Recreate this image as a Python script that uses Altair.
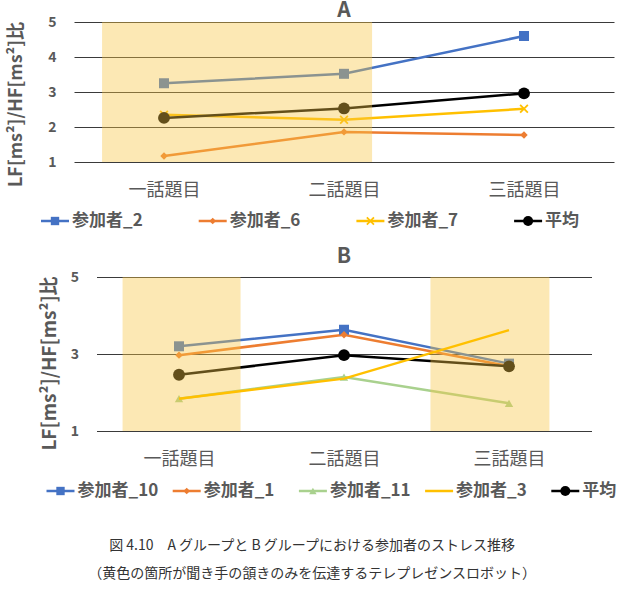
import json
import altair as alt
import pandas as pd

# ---------------- data ----------------
topics = ["一話題目", "二話題目", "三話題目"]

a_series = ["参加者_2", "参加者_6", "参加者_7", "平均"]
a_p2 = [3.25, 3.52, 4.60]
a_p6 = [1.17, 1.86, 1.77]
a_p7 = [2.35, 2.21, 2.52]
a_avg = [2.26, 2.53, 2.96]
a_colors = ["#4472C4", "#ED7D31", "#FFC000", "#000000"]
a_markers = ["square", "diamond", "x", "circle"]
a_shade_from = [0.156]
a_shade_to = [1.656]

b_series = ["参加者_10", "参加者_1", "参加者_11", "参加者_3", "平均"]
b_p10 = [3.20, 3.63, 2.75]
b_p1 = [2.97, 3.50, 2.68]
b_p11 = [1.84, 2.40, 1.72]
b_p3 = [1.84, 2.36, 3.62]
b_avg = [2.46, 2.97, 2.68]
b_colors = ["#4472C4", "#ED7D31", "#A9D18E", "#FFC000", "#000000"]
b_markers = ["square", "diamond", "triangle", "none", "circle"]
b_shade_from = [0.158, 2.024]
b_shade_to = [0.873, 2.745]

caption = ["図 4.10　A グループと B グループにおける参加者のストレス推移",
           "（黄色の箇所が聞き手の頷きのみを伝達するテレプレゼンスロボット）"]

FONT = "Noto Sans CJK JP"
GRAY = "#595959"

# marker styles: (shape, size on chart, size in legend, filled)
marker_style = {
    "square": ("square", 100, 70, True),
    "diamond": ("diamond", 55, 45, True),
    "x": ("M-1,-1L1,1M-1,1L1,-1", 60, 50, False),
    "circle": ("circle", 140, 100, True),
    "triangle": ("triangle-up", 70, 55, True),
}

label_expr = json.dumps(topics, ensure_ascii=False) + "[floor(datum.value)]"
pos_expr = "indexof(" + json.dumps(topics, ensure_ascii=False) + ", datum.topic) + 0.5"


def panel(title, series, values, colors, markers, shade_from, shade_to,
          yticks, width, height, top_series, leg_x0, leg_step, leg_dy, title_offset,
          ytitle_size, ytitle_pad, ytitle_shift):
    rows = []
    for s, vals in zip(series, values):
        for t, v in zip(topics, vals):
            rows.append({"series": s, "topic": t, "value": v})
    df = pd.DataFrame(rows)
    shade_df = pd.DataFrame({"x1": shade_from, "x2": shade_to,
                             "y1": [1] * len(shade_from), "y2": [5] * len(shade_from)})
    leg_df = pd.DataFrame({"series": series})

    xs = alt.Scale(domain=[0, 3], nice=False, zero=False)
    ys = alt.Scale(domain=[1, 5], nice=False, zero=False)
    xaxis = alt.Axis(
        values=[0.5, 1.5, 2.5], labelExpr=label_expr, grid=False, domain=False,
        ticks=False, labelFontSize=18, labelColor=GRAY, labelFont=FONT,
        labelPadding=19, title=None)
    yaxis = alt.Axis(
        values=yticks, tickCount=len(yticks), grid=True, gridColor="#3a3a3a",
        gridWidth=1, domain=False, ticks=False, labelFontSize=14,
        labelFontWeight="bold", labelColor=GRAY, labelFont=FONT, labelPadding=18,
        labelOverlap=False, title="LF[ms²]/HF[ms²]比", titleFontSize=ytitle_size,
        titleFontWeight="bold", titleColor=GRAY, titleFont=FONT,
        titlePadding=ytitle_pad, titleY=height / 2 + ytitle_shift)
    x = alt.X("pos:Q", scale=xs, axis=xaxis)
    y = alt.Y("value:Q", scale=ys, axis=yaxis)

    base = alt.Chart(df).transform_calculate(pos=pos_expr)
    cscale = alt.Scale(domain=series, range=colors)
    wscale = alt.Scale(domain=series, range=[3.5 if s == "平均" else 2.5 for s in series])

    def line_layer(keep):
        return base.transform_filter(
            alt.FieldOneOfPredicate(field="series", oneOf=keep)
        ).mark_line().encode(
            x=x, y=y,
            color=alt.Color("series:N", scale=cscale, legend=None),
            strokeWidth=alt.StrokeWidth("series:N", scale=wscale, legend=None),
        )

    data_layers = [line_layer([s for s in series if s not in top_series])]
    for s, c, m in zip(series, colors, markers):
        if m == "none":
            continue
        shp, size, _, filled = marker_style[m]
        data_layers.append(base.transform_filter(alt.datum.series == s).mark_point(
            shape=shp, size=size, filled=filled, color=c, opacity=1,
            strokeWidth=1.8 if not filled else 1).encode(x=x, y=y))

    data_layers.append(alt.Chart(shade_df).mark_rect(color="#F7C544", opacity=0.4).encode(
        x=alt.X("x1:Q", scale=xs, axis=xaxis), x2="x2:Q",
        y=alt.Y("y1:Q", scale=ys, axis=yaxis), y2="y2:Q"))

    if top_series:
        data_layers.append(line_layer(top_series))

    # ---- legend drawn below the panel ----
    lx = alt.X("series:N", axis=None, sort=series,
               scale=alt.Scale(type="point", domain=series, padding=0,
                               range=[leg_x0, leg_x0 + leg_step * (len(series) - 1)]))
    ly = alt.value(height + leg_dy)
    lbase = alt.Chart(leg_df)
    legend_layers = [
        lbase.mark_rule(x2Offset=28).encode(
            x=lx, x2=alt.X2("series:N"), y=ly,
            color=alt.Color("series:N", scale=cscale, legend=None),
            strokeWidth=alt.StrokeWidth("series:N", scale=wscale, legend=None)),
    ]
    for s, c, m in zip(series, colors, markers):
        if m == "none":
            continue
        shp, _, lsize, filled = marker_style[m]
        legend_layers.append(lbase.transform_filter(alt.datum.series == s).mark_point(
            shape=shp, size=lsize, filled=filled, color=c, opacity=1, xOffset=14,
            strokeWidth=1.8 if not filled else 1).encode(x=lx, y=ly))
    legend_layers.append(lbase.mark_text(
        align="left", baseline="middle", dx=31, fontSize=17, fontWeight="bold",
        font=FONT, color=GRAY).encode(x=lx, y=ly, text="series:N"))

    return alt.layer(
        alt.layer(*data_layers), alt.layer(*legend_layers)
    ).resolve_scale(x="independent").properties(
        width=width, height=height,
        title=alt.TitleParams(title, fontSize=21, fontWeight="bold", color=GRAY,
                              font=FONT, anchor="middle", offset=title_offset),
    )


chart_a = panel("A", a_series, [a_p2, a_p6, a_p7, a_avg], a_colors, a_markers,
                a_shade_from, a_shade_to, [1, 2, 3, 4, 5], 540, 140, [],
                -33, 157.7, 59, -6, 18, 22, 12)
chart_b = panel("B", b_series, [b_p10, b_p1, b_p11, b_p3, b_avg], b_colors, b_markers,
                b_shade_from, b_shade_to, [1, 3, 5], 495, 154, ["参加者_3"],
                -50, 126.2, 60, 3, 19, 11, 9)

chart = alt.vconcat(chart_a, chart_b, spacing=115, center=True, bounds="flush").resolve_scale(
    x="independent", y="independent", color="independent", strokeWidth="independent",
).resolve_axis(x="independent", y="independent").properties(
    title=alt.TitleParams(caption, orient="bottom", fontSize=14, font=FONT,
                          fontWeight="normal", color="#333333", lineHeight=28,
                          offset=40, anchor="middle", frame="bounds"),
    padding={"left": 7, "top": 0, "right": 0, "bottom": 0},
).configure_view(stroke=None)

chart.save("out.html", embed_options={"renderer": "svg", "actions": False})
